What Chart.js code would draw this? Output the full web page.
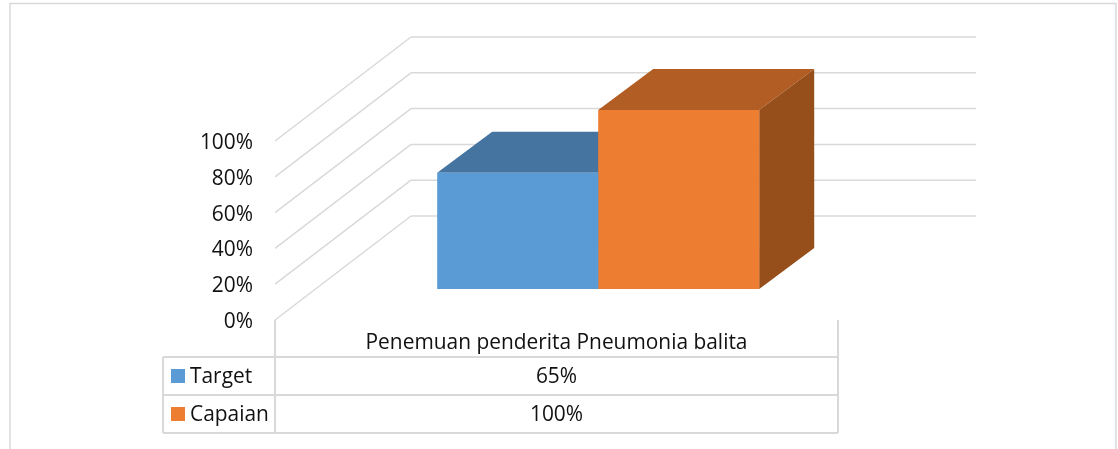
<!DOCTYPE html>
<html><head><meta charset="utf-8">
<style>html,body{margin:0;padding:0;background:#fff}canvas{display:block}</style>
<script src="https://cdn.jsdelivr.net/npm/chart.js@4"></script></head>
<body><canvas id="c" width="1118" height="449"></canvas>
<script>
const categories = ['Penemuan penderita Pneumonia balita'];
const seriesNames = ['Target', 'Capaian'];
const targetValues = [65];
const capaianValues = [100];
const yTicks = [0, 20, 40, 60, 80, 100];
const frontColors = ['#5B9BD5', '#ED7D31'];
const topColors = ['#44749F', '#B25D23'];
const sideColors = ['#3F6E99', '#964F1B'];

const FAMILY = '"Open Sans"';
const SIZE = 20.9;
const TEXT = '#111111';
const FONT = SIZE + 'px ' + FAMILY;
const GRID = '#D9D9D9';
const WALL = {dx: 136, dy: -104, right: 976};
const BAR_SHIFT = {dx: 41.7, dy: -31};
const DEPTH = {dx: 55, dy: -41};
const TABLE = {left: 163, split: 275, right: 838, rows: [357, 395, 433]};

function line(ctx, x1, y1, x2, y2, w) {
  ctx.lineWidth = w || 1.5; ctx.strokeStyle = GRID;
  ctx.beginPath(); ctx.moveTo(x1, y1); ctx.lineTo(x2, y2); ctx.stroke();
}
function poly(ctx, pts, color) {
  ctx.fillStyle = color; ctx.beginPath();
  pts.forEach((p, i) => i ? ctx.lineTo(p[0], p[1]) : ctx.moveTo(p[0], p[1]));
  ctx.closePath(); ctx.fill();
}
const scene = {
  id: 'scene',
  beforeDraw(chart) {
    const {ctx, scales: {y}, chartArea: a} = chart;
    ctx.save();
    ctx.strokeStyle = GRID; ctx.lineWidth = 1.5;
    ctx.beginPath(); ctx.moveTo(10, 449); ctx.lineTo(10, 3.5); ctx.lineTo(1116, 3.5); ctx.lineTo(1116, 449); ctx.stroke();
    yTicks.forEach(v => {
      const py = y.getPixelForValue(v);
      line(ctx, a.left, py, a.left + WALL.dx, py + WALL.dy);
      line(ctx, a.left + WALL.dx, py + WALL.dy, WALL.right, py + WALL.dy);
    });
    const b = y.getPixelForValue(0);
    TABLE.rows.forEach(r => line(ctx, TABLE.left, r, TABLE.right, r, 2));
    line(ctx, TABLE.left, TABLE.rows[0], TABLE.left, TABLE.rows[2], 2);
    line(ctx, TABLE.split, b, TABLE.split, TABLE.rows[2], 2);
    line(ctx, TABLE.right, b, TABLE.right, TABLE.rows[2], 2);
    const vals = [targetValues[0], capaianValues[0]];
    ctx.font = FONT; ctx.textBaseline = 'middle';
    seriesNames.forEach((n, i) => {
      const top = TABLE.rows[i], cy = (top + TABLE.rows[i + 1]) / 2;
      ctx.fillStyle = frontColors[i]; ctx.fillRect(171, cy - 7, 14, 14);
      ctx.fillStyle = TEXT; ctx.textAlign = 'left'; ctx.fillText(n, 190, cy + 1);
      ctx.textAlign = 'center'; ctx.fillText(vals[i] + '%', (TABLE.split + TABLE.right) / 2, cy + 1);
    });
    ctx.restore();
  },
  beforeDatasetsDraw(chart) {
    const {ctx} = chart;
    ctx.save();
    ctx.translate(BAR_SHIFT.dx, BAR_SHIFT.dy);
    chart.data.datasets.forEach((d, i) => {
      const el = chart.getDatasetMeta(i).data[0];
      const l = el.x - el.width / 2, r = el.x + el.width / 2, t = el.y, b = el.base;
      poly(ctx, [[l, t], [l + DEPTH.dx, t + DEPTH.dy], [r + DEPTH.dx, t + DEPTH.dy], [r, t]], topColors[i]);
      poly(ctx, [[r, t], [r + DEPTH.dx, t + DEPTH.dy], [r + DEPTH.dx, b + DEPTH.dy], [r, b]], sideColors[i]);
    });
  },
  afterDatasetsDraw(chart) { chart.ctx.restore(); }
};
new Chart(document.getElementById('c'), {
  type: 'bar',
  data: {
    labels: categories,
    datasets: [
      {label: seriesNames[0], data: targetValues, backgroundColor: frontColors[0], clip: false},
      {label: seriesNames[1], data: capaianValues, backgroundColor: frontColors[1], clip: false}
    ]
  },
  plugins: [scene],
  options: {
    responsive: false, animation: false,
    layout: {padding: {left: 175, right: 280, top: 141, bottom: 0}},
    plugins: {legend: {display: false}, tooltip: {enabled: false}, title: {display: false}},
    datasets: {bar: {categoryPercentage: 0.572, barPercentage: 1}},
    scales: {
      x: {
        grid: {display: false, drawTicks: false}, border: {display: false},
        afterFit(s) { s.height = 129; },
        ticks: {padding: 11, color: TEXT, font: {family: FAMILY, size: SIZE}, maxRotation: 0}
      },
      y: {
        min: 0, max: 100,
        grid: {display: false, drawTicks: false}, border: {display: false},
        afterFit(s) { s.width = 100; },
        afterBuildTicks(s) { s.ticks = yTicks.map(v => ({value: v})); },
        ticks: {padding: 22, labelOffset: 2, color: TEXT, font: {family: FAMILY, size: SIZE}, callback: v => v + '%'}
      }
    }
  }
});
</script></body></html>
